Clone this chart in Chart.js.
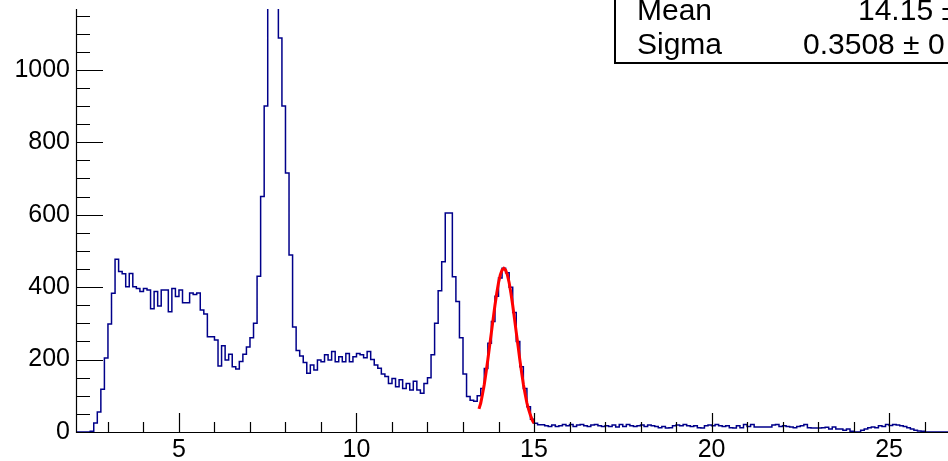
<!DOCTYPE html>
<html>
<head>
<meta charset="utf-8">
<script src="https://cdn.jsdelivr.net/npm/chart.js@4.4.1/dist/chart.umd.min.js"></script>
<style>
  html, body { margin: 0; padding: 0; background: #fff; }
  #wrap { width: 948px; height: 461px; position: relative; }
</style>
</head>
<body>
<div id="wrap"><canvas id="histChart"></canvas></div>
<script>
// histogram bins: left edge of first bin and width
const binStart = 2.1;
const binWidth = 0.1;
// counts per bin, 10 bins per row (row comment = left edge of first bin)
const binCounts = [
    0, 0, 0, 0, 2, 25, 55, 118, 204, 298,              // 2.1
    383, 477, 443, 437, 401, 438, 401, 396, 388, 396,  // 3.1
    392, 340, 388, 348, 392, 392, 332, 396, 374, 392,  // 4.1
    357, 357, 384, 380, 384, 337, 326, 263, 263, 254,  // 5.1
    182, 238, 199, 215, 180, 174, 195, 215, 235, 260,  // 6.1
    300, 430, 650, 900, 1230, 1320, 1280, 1088, 900, 715, // 7.1
    489, 290, 225, 210, 192, 162, 185, 171, 199, 194,  // 8.1
    213, 199, 222, 194, 208, 194, 217, 194, 208, 217,  // 9.1
    213, 205, 222, 200, 185, 176, 160, 153, 134, 148,  // 10.1
    125, 144, 120, 134, 116, 140, 116, 107, 134, 150,  // 11.1
    213, 300, 390, 470, 605, 605, 429, 360, 260, 160,  // 12.1
    98, 88, 85, 100, 120, 175, 245, 305, 375, 425,     // 13.1
    452, 440, 400, 330, 250, 180, 120, 70, 35, 24,     // 14.1
    20, 20, 17, 15, 19, 15, 17, 21, 17, 21,            // 15.1
    15, 19, 21, 17, 15, 19, 21, 17, 15, 17,            // 16.1
    15, 19, 14, 21, 15, 21, 17, 15, 17, 19,            // 17.1
    15, 19, 17, 15, 12, 15, 11, 12, 17, 19,            // 18.1
    17, 21, 17, 15, 17, 12, 11, 17, 19, 17,            // 19.1
    21, 17, 15, 17, 12, 11, 17, 12, 21, 15,            // 20.1
    21, 14, 14, 14, 14, 14, 19, 21, 15, 17,            // 21.1
    15, 14, 12, 15, 17, 21, 12, 11, 11, 11,            // 22.1
    12, 13, 8, 14, 8, 8, 5, 8, 2, 0,                   // 23.1
    0, 5, 8, 12, 14, 12, 17, 15, 21, 18,               // 24.1
    21, 19, 17, 15, 12, 8, 5, 3, 2, 0,                 // 25.1
    0, 0, 0, 0, 0, 0                                   // 26.1
];

// red fit curve
const fitX = [13.45, 13.5, 13.55, 13.6, 13.65, 13.7, 13.75, 13.8, 13.85, 13.9, 13.95,
              14.0, 14.05, 14.1, 14.15, 14.2, 14.25, 14.3, 14.35, 14.4, 14.45, 14.5,
              14.55, 14.6, 14.65, 14.7, 14.75, 14.8, 14.85, 14.9, 14.95, 15.0];
const fitY = [64, 80, 105, 132, 165, 200, 238, 275, 313, 350, 383,
              412, 434, 447, 452, 447, 434, 412, 383, 350, 313, 275,
              238, 200, 165, 132, 105, 80, 62, 46, 33, 24];

const xMajorTicks = [5, 10, 15, 20, 25];
const xMinorTicks = [3, 4, 6, 7, 8, 9, 11, 12, 13, 14, 16, 17, 18, 19, 21, 22, 23, 24, 26];
const yMajorTicks = [0, 200, 400, 600, 800, 1000];
const yMinorTicks = [50, 100, 150, 250, 300, 350, 450, 500, 550, 650, 700, 750,
                     850, 900, 950, 1050, 1100, 1150];

const statNames = ['Mean', 'Sigma'];
const statValues = ['14.15 \u00b1', '0.3508 \u00b1 0'];

const FONT = '"Liberation Sans", Arial, sans-serif';

const histPoints = binCounts.map((c, i) => ({ x: binStart + i * binWidth, y: c }));
histPoints.push({ x: binStart + binCounts.length * binWidth, y: binCounts[binCounts.length - 1] });
const fitPoints = fitX.map((x, i) => ({ x: x, y: fitY[i] }));

// ROOT style axes: inward ticks, stats box
const rootFrame = {
    id: 'rootFrame',
    afterDraw(chart) {
        const ctx = chart.ctx;
        const area = chart.chartArea;
        const xs = chart.scales.x;
        const ys = chart.scales.y;
        ctx.save();
        ctx.strokeStyle = '#000';
        ctx.lineWidth = 1.2;
        ctx.beginPath();
        ctx.moveTo(area.left + 0.5, area.top);
        ctx.lineTo(area.left + 0.5, area.bottom + 0.5);
        ctx.lineTo(area.right, area.bottom + 0.5);
        xMajorTicks.forEach(v => {
            const p = Math.round(xs.getPixelForValue(v)) + 0.5;
            ctx.moveTo(p, area.bottom);
            ctx.lineTo(p, area.bottom - 19);
        });
        xMinorTicks.forEach(v => {
            const p = Math.round(xs.getPixelForValue(v)) + 0.5;
            ctx.moveTo(p, area.bottom);
            ctx.lineTo(p, area.bottom - 10);
        });
        yMajorTicks.forEach(v => {
            const p = Math.round(ys.getPixelForValue(v)) + 0.5;
            ctx.moveTo(area.left, p);
            ctx.lineTo(area.left + 27, p);
        });
        yMinorTicks.forEach(v => {
            const p = Math.round(ys.getPixelForValue(v)) + 0.5;
            ctx.moveTo(area.left, p);
            ctx.lineTo(area.left + 14, p);
        });
        ctx.stroke();

        // stats box (cut by the top and right edge)
        ctx.fillStyle = '#fff';
        ctx.fillRect(615, -5, 400, 68);
        ctx.lineWidth = 2;
        ctx.strokeRect(615, -5, 400, 68);
        ctx.fillStyle = '#000';
        ctx.font = '30px ' + FONT;
        ctx.textBaseline = 'alphabetic';
        ctx.textAlign = 'left';
        statNames.forEach((n, i) => ctx.fillText(n, 637, 20 + i * 34));
        ctx.fillText(statValues[0], 858, 20);
        ctx.fillText(statValues[1], 803, 54);
        ctx.restore();
    }
};

new Chart(document.getElementById('histChart'), {
    type: 'line',
    data: {
        datasets: [{
            data: fitPoints,
            borderColor: '#ff0000',
            borderWidth: 3,
            pointRadius: 0,
            tension: 0,
            order: 0
        }, {
            data: histPoints,
            borderColor: '#00008a',
            borderWidth: 1.5,
            pointRadius: 0,
            stepped: 'before',
            fill: false,
            order: 1
        }]
    },
    options: {
        responsive: true,
        maintainAspectRatio: false,
        animation: false,
        layout: { padding: { top: 9, right: 0, bottom: 0, left: 0 } },
        plugins: {
            legend: { display: false },
            tooltip: { enabled: false }
        },
        scales: {
            x: {
                type: 'linear',
                min: 2.1,
                max: 26.66,
                grid: { display: false, drawTicks: false },
                border: { display: false },
                afterBuildTicks: s => { s.ticks = xMajorTicks.map(v => ({ value: v })); },
                afterFit: s => {
                    s.height = 29;
                    s.paddingLeft = 0;
                    s.paddingRight = 0;
                },
                ticks: {
                    color: '#000',
                    font: { family: FONT, size: 25 },
                    padding: 3,
                    maxRotation: 0,
                    autoSkip: false,
                    callback: v => String(v)
                }
            },
            y: {
                type: 'linear',
                min: 0,
                max: 1168,
                grid: { display: false, drawTicks: false },
                border: { display: false },
                afterBuildTicks: s => { s.ticks = yMajorTicks.map(v => ({ value: v })); },
                afterFit: s => {
                    s.width = 76;
                    s.paddingTop = 0;
                    s.paddingBottom = 0;
                },
                ticks: {
                    color: '#000',
                    font: { family: FONT, size: 25 },
                    padding: 6,
                    autoSkip: false,
                    callback: v => String(v)
                }
            }
        }
    },
    plugins: [rootFrame]
});
</script>
</body>
</html>
